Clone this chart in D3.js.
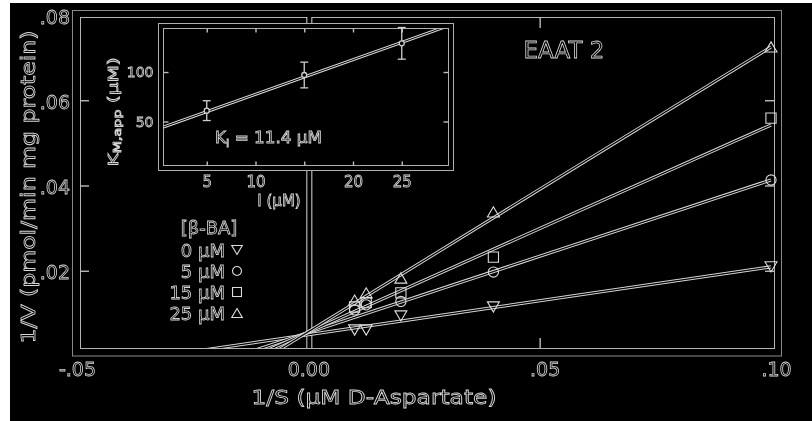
<!DOCTYPE html>
<html>
<head>
<meta charset="utf-8">
<script src="https://cdn.jsdelivr.net/npm/d3@7"></script>
<style>
  body { margin: 0; background: #fff; }
  svg { display: block; will-change: transform; }
  text { font-family: "DejaVu Sans", sans-serif; fill: #000; stroke: #d6d6d6; stroke-width: 0.8px; }
  .tick line { stroke: #bdbdbd; stroke-width: 1.4px; }
  .domain { display: none; }
</style>
</head>
<body>
<div class="chart"></div>
<script>
// main plot data (Lineweaver-Burk, EAAT 2)
var invS = [0.01, 0.0125, 0.02, 0.04, 0.10];
var concLabels = ["0 µM", "5 µM", "15 µM", "25 µM"];
var shapes = ["down", "circle", "square", "up"];
var invV0 = [0.0061, 0.0061, 0.0094, 0.0115, 0.0209];
var invV5 = [0.0108, 0.0120, 0.0128, 0.0197, 0.0413];
var invV15 = [0.0115, 0.0125, 0.0148, 0.0232, 0.0558];
var invV25 = [0.0131, 0.0148, 0.0183, 0.0338, 0.0725];
var fitIntercepts = [0.0050, 0.0055, 0.0056, 0.0057];
var fitSlopes = [0.159, 0.358, 0.486, 0.668];
var xTicks = [-0.05, 0, 0.05, 0.10];
var xTickLabels = ["-.05", "0.00", ".05", ".10"];
var yTicks = [0.02, 0.04, 0.06, 0.08];
var yTickLabels = [".02", ".04", ".06", ".08"];

// inset data (Km,app vs inhibitor)
var inhib = [5, 15, 25];
var kmApp = [61, 97, 129];
var kmErr = [10, 13, 16];
var kmFitIntercept = 42.5;
var kmFitSlope = 3.5;
var insetXTicks = [5, 10, 15, 20, 25];
var insetXTickLabels = ["5", "10", "", "20", "25"];
var insetYTicks = [50, 100];

var series = [invV0, invV5, invV15, invV25];

var svgWidth = 812;
var svgHeight = 421;

var svg = d3.select(".chart")
  .append("svg")
  .attr("width", svgWidth)
  .attr("height", svgHeight);

svg.append("rect")
  .attr("x", 10).attr("y", 3)
  .attr("width", svgWidth - 10).attr("height", svgHeight - 3)
  .attr("fill", "#000");

// scales
var x = d3.scaleLinear().domain([-0.05, 0.10]).range([77, 771]);
var y = d3.scaleLinear().domain([0, 0.08]).range([356, 15]);

var box = { left: 80, right: 774, top: 17, bottom: 348 };

// outlined stroke: light wide line with dark core
function outline(g, d, w) {
  g.append("path").attr("d", d).attr("fill", "none")
    .attr("stroke", "#d8d8d8").attr("stroke-width", w);
  g.append("path").attr("d", d).attr("fill", "none")
    .attr("stroke", "#000").attr("stroke-width", w - 2);
}

// frame
svg.append("rect")
  .attr("x", box.left - 7.5).attr("y", box.top - 6.5)
  .attr("width", box.right - box.left + 15).attr("height", box.bottom - box.top + 14.5)
  .attr("fill", "none").attr("stroke", "#8a8a8a").attr("stroke-width", 1);
svg.append("rect")
  .attr("x", box.left + 0.5).attr("y", box.top + 0.5)
  .attr("width", box.right - box.left).attr("height", box.bottom - box.top)
  .attr("fill", "none").attr("stroke", "#b5b5b5").attr("stroke-width", 1);

svg.append("clipPath").attr("id", "plotClip")
  .append("rect")
  .attr("x", box.left + 1).attr("y", box.top + 1)
  .attr("width", box.right - box.left - 1).attr("height", box.bottom - box.top - 1);

// vertical line at 1/S = 0
outline(svg.append("g"), `M${x(0) + 1},${box.top} V${box.bottom}`, 6);

// axes
var yAxis = d3.axisLeft(y)
  .tickValues(yTicks)
  .tickSize(-9)
  .tickPadding(10)
  .tickFormat((d, i) => yTickLabels[i]);
var yAxisG = svg.append("g")
  .attr("transform", `translate(${box.left}, 2)`)
  .call(yAxis);
yAxisG.selectAll("text").attr("font-size", 19).attr("dy", "0.32em");
yAxisG.selectAll(".tick").filter(d => d === 0.08).select("line").remove();
yAxisG.selectAll(".tick line").attr("transform", "translate(0,-2)");

svg.append("g")
  .attr("transform", `translate(${box.right}, 0)`)
  .call(d3.axisRight(y).tickValues([0.02, 0.04, 0.06]).tickSize(-9).tickFormat(""));

var xAxisG = svg.append("g")
  .attr("transform", `translate(0, ${box.bottom})`)
  .call(d3.axisBottom(x)
    .tickValues(xTicks)
    .tickSize(-10)
    .tickPadding(15)
    .tickFormat((d, i) => xTickLabels[i]));
xAxisG.selectAll("text").attr("font-size", 19)
  .attr("dx", (d, i) => xTickLabels[i].charAt(0) === "." ? 5 : 0);
xAxisG.selectAll(".tick").filter(d => d !== 0.05).select("line").remove();

svg.append("g")
  .attr("transform", `translate(0, ${box.top})`)
  .call(d3.axisTop(x).tickValues([0.05]).tickSize(-11).tickFormat(""));

// axis titles
svg.append("text")
  .attr("x", 374).attr("y", 404)
  .attr("text-anchor", "middle")
  .attr("font-size", 19)
  .attr("textLength", 245)
  .attr("lengthAdjust", "spacingAndGlyphs")
  .text("1/S (µM D-Aspartate)");

svg.append("text")
  .attr("transform", "translate(35, 187) rotate(-90)")
  .attr("text-anchor", "middle")
  .attr("font-size", 19)
  .attr("textLength", 313)
  .attr("lengthAdjust", "spacingAndGlyphs")
  .text("1/V (pmol/min mg protein)");

svg.append("text")
  .attr("x", 564).attr("y", 58)
  .attr("text-anchor", "middle")
  .attr("font-size", 23)
  .text("EAAT 2");

// fitted lines
var plot = svg.append("g").attr("clip-path", "url(#plotClip)");
var line = d3.line().x(d => x(d[0])).y(d => y(d[1]));
fitIntercepts.forEach(function(b, i) {
  var pts = x.domain().map(v => [v, b + fitSlopes[i] * v]);
  outline(plot, line(pts), 3.2);
});

// markers
function markerPath(shape, s) {
  var h = s / 2;
  if (shape === "up") return `M0,${-h * 0.85} L${h},${h * 0.85} L${-h},${h * 0.85} Z`;
  if (shape === "down") return `M0,${h * 0.85} L${h},${-h * 0.85} L${-h},${-h * 0.85} Z`;
  if (shape === "square") return `M${-h * 0.85},${-h * 0.85} h${s * 0.85} v${s * 0.85} h${-s * 0.85} Z`;
  return d3.symbol(d3.symbolCircle, Math.PI * (h * 0.85) * (h * 0.85))();
}

series.forEach(function(vals, i) {
  svg.append("g").selectAll("path")
    .data(vals)
    .enter()
    .append("path")
    .attr("transform", (d, j) => `translate(${x(invS[j])}, ${y(d)})`)
    .attr("d", markerPath(shapes[i], 12))
    .attr("fill", "none")
    .attr("stroke", "#dcdcdc")
    .attr("stroke-width", 1.1);
});

// legend
var legend = svg.append("g");
legend.append("text")
  .attr("x", 209).attr("y", 234)
  .attr("text-anchor", "middle")
  .attr("font-size", 18)
  .text("[β-BA]");
var legendRows = legend.selectAll("g.row")
  .data(concLabels)
  .enter()
  .append("g")
  .attr("class", "row")
  .attr("transform", (d, i) => `translate(0, ${250 + i * 21})`);
legendRows.append("text")
  .attr("x", 225).attr("y", 6.5)
  .attr("text-anchor", "end")
  .attr("font-size", 18)
  .text(d => d);
legendRows.append("path")
  .attr("transform", "translate(237, 0)")
  .attr("d", (d, i) => markerPath(shapes[i], 10.5))
  .attr("fill", "none")
  .attr("stroke", "#dcdcdc")
  .attr("stroke-width", 1.1);

// ---- inset ----
var ibox = { left: 163.5, right: 448.5, top: 28.5, bottom: 165.5 };
var ix = d3.scaleLinear().domain([0, 30]).range([158, 450.5]);
var iy = d3.scaleLinear().domain([0, 145]).range([171, 27.5]);

var inset = svg.append("g");
inset.append("rect")
  .attr("x", ibox.left - 5).attr("y", ibox.top - 5)
  .attr("width", ibox.right - ibox.left + 10).attr("height", ibox.bottom - ibox.top + 10)
  .attr("fill", "#000").attr("stroke", "#b0b0b0").attr("stroke-width", 1);
inset.append("rect")
  .attr("x", ibox.left).attr("y", ibox.top)
  .attr("width", ibox.right - ibox.left).attr("height", ibox.bottom - ibox.top)
  .attr("fill", "none").attr("stroke", "#b0b0b0").attr("stroke-width", 1);

inset.append("clipPath").attr("id", "insetClip")
  .append("rect")
  .attr("x", ibox.left + 0.5).attr("y", ibox.top + 0.5)
  .attr("width", ibox.right - ibox.left - 1).attr("height", ibox.bottom - ibox.top - 1);

var ixAxisG = inset.append("g")
  .attr("transform", `translate(0, ${ibox.bottom})`)
  .call(d3.axisBottom(ix).tickValues(insetXTicks).tickSize(-4).tickPadding(11)
    .tickFormat((d, i) => insetXTickLabels[i]));
ixAxisG.selectAll("text").attr("font-size", 15);

inset.append("g")
  .attr("transform", `translate(0, ${ibox.top})`)
  .call(d3.axisTop(ix).tickValues(insetXTicks).tickSize(-4).tickFormat(""));

var iyAxisG = inset.append("g")
  .attr("transform", `translate(${ibox.left}, 0)`)
  .call(d3.axisLeft(iy).tickValues(insetYTicks).tickSize(-5).tickPadding(10));
iyAxisG.selectAll("text").attr("font-size", 14);

inset.append("g")
  .attr("transform", `translate(${ibox.right}, 0)`)
  .call(d3.axisRight(iy).tickValues(insetYTicks).tickSize(-5).tickFormat(""));

// inset fit line
var iline = d3.line().x(d => ix(d[0])).y(d => iy(d[1]));
var ipts = ix.domain().map(v => [v, kmFitIntercept + kmFitSlope * v]);
outline(inset.append("g").attr("clip-path", "url(#insetClip)"), iline(ipts), 3);

// error bars
var errG = inset.append("g").selectAll("g")
  .data(kmApp)
  .enter()
  .append("g")
  .attr("stroke", "#cfcfcf")
  .attr("stroke-width", 1.3)
  .attr("fill", "none");
errG.append("line")
  .attr("x1", (d, i) => ix(inhib[i])).attr("x2", (d, i) => ix(inhib[i]))
  .attr("y1", (d, i) => iy(d - kmErr[i])).attr("y2", (d, i) => iy(d + kmErr[i]));
errG.append("line")
  .attr("x1", (d, i) => ix(inhib[i]) - 4).attr("x2", (d, i) => ix(inhib[i]) + 4)
  .attr("y1", (d, i) => iy(d + kmErr[i])).attr("y2", (d, i) => iy(d + kmErr[i]));
errG.append("line")
  .attr("x1", (d, i) => ix(inhib[i]) - 4).attr("x2", (d, i) => ix(inhib[i]) + 4)
  .attr("y1", (d, i) => iy(d - kmErr[i])).attr("y2", (d, i) => iy(d - kmErr[i]));
errG.append("circle")
  .attr("cx", (d, i) => ix(inhib[i]))
  .attr("cy", d => iy(d))
  .attr("r", 2.5)
  .attr("fill", "#000");

// inset labels
var kiText = inset.append("text")
  .attr("x", 215).attr("y", 143)
  .attr("font-size", 15)
  .attr("textLength", 107)
  .attr("lengthAdjust", "spacingAndGlyphs");
kiText.append("tspan").text("K");
kiText.append("tspan").attr("font-size", 10).attr("dy", 4).text("I");
kiText.append("tspan").attr("dy", -4).text(" = 11.4 µM");

inset.append("text")
  .attr("x", 279).attr("y", 206)
  .attr("text-anchor", "middle")
  .attr("font-size", 15)
  .text("I (µM)");

var kmText = inset.append("text")
  .attr("transform", "translate(118, 112) rotate(-90)")
  .attr("text-anchor", "middle")
  .attr("font-size", 14)
  .attr("textLength", 109)
  .attr("lengthAdjust", "spacingAndGlyphs");
kmText.append("tspan").text("K");
kmText.append("tspan").attr("font-size", 10).attr("dy", 3).text("M,app");
kmText.append("tspan").attr("dy", -3).text(" (µM)");
</script>
</body>
</html>
